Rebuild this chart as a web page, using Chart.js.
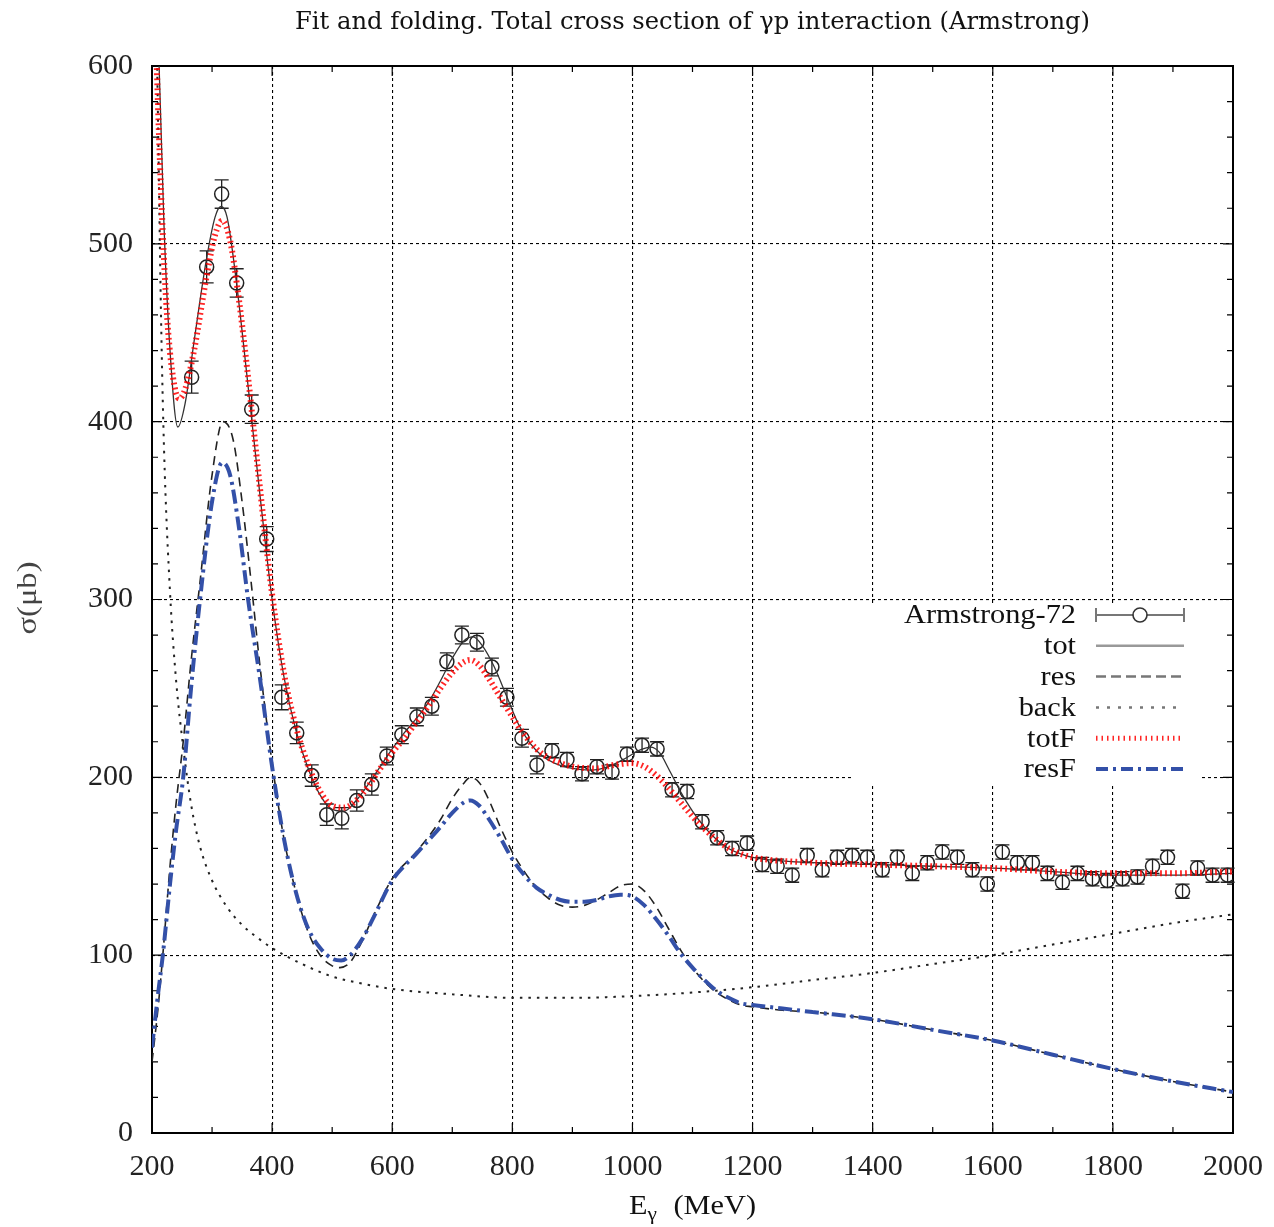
<!DOCTYPE html>
<html>
<head>
<meta charset="utf-8">
<script src="https://cdn.jsdelivr.net/npm/chart.js@4.4.1/dist/chart.umd.min.js"></script>
<style>
  html, body { margin: 0; padding: 0; background: #fff; }
  #wrap { width: 1274px; height: 1227px; }
</style>
</head>
<body>
<div id="wrap"><canvas id="chart" width="1274" height="1227"></canvas></div>
<script>
// Armstrong-72 measurements
const dataE = [266, 291, 316, 341, 366, 391, 416, 441, 466, 491,
               516, 541, 566, 591, 616, 641, 666, 691, 716, 741,
               766, 791, 816, 841, 866, 891, 916, 941, 966, 991,
               1016, 1041, 1066, 1091, 1116, 1141, 1166, 1191, 1216, 1241,
               1266, 1291, 1316, 1341, 1366, 1391, 1416, 1441, 1466, 1491,
               1516, 1541, 1566, 1591, 1616, 1641, 1666, 1691, 1716, 1741,
               1766, 1791, 1816, 1841, 1866, 1891, 1916, 1941, 1966, 1991];
const dataSigma = [425, 487, 528, 478, 407, 334, 245, 225, 201, 179,
                   177, 187, 196, 212, 224, 234, 240, 265, 280, 276,
                   262, 245, 222, 207, 215, 210, 202, 206, 203, 213,
                   218, 216, 193, 192, 175, 166, 160, 163, 151, 150,
                   145, 156, 148, 155, 156, 155, 148, 155, 146, 152,
                   158, 155, 148, 140, 158, 152, 152, 146, 141, 146,
                   143, 142, 143, 144, 150, 155, 136, 149, 145, 145];
const dataErr = [9, 9, 8, 8, 8, 7, 7, 6, 6, 6,
                 6, 6, 6, 5, 5, 5, 5, 5, 5, 5,
                 5, 5, 5, 5, 4, 4, 4, 4, 4, 4,
                 4, 4, 4, 4, 4, 4, 4, 4, 4, 4,
                 4, 4, 4, 4, 4, 4, 4, 4, 4, 4,
                 4, 4, 4, 4, 4, 4, 4, 4, 4, 4,
                 4, 4, 4, 4, 4, 4, 4, 4, 4, 4];

// tot: full fit
const totE = [200, 210, 220, 230, 243, 255, 270, 290, 305, 315, 325, 340, 360, 380, 400, 420, 440, 460, 480, 500,
              520, 540, 560, 580, 600, 620, 640, 660, 680, 700, 720, 735, 750, 770, 790, 810, 830, 850, 870, 900,
              930, 960, 990, 1010, 1030, 1045, 1060, 1080, 1100, 1120, 1140, 1160, 1180, 1200, 1250, 1300, 1400, 1500,
              1600, 1700, 1800, 1900, 2000];
const totV = [760, 620, 510, 440, 397, 410, 445, 490, 515, 521, 515, 480, 420, 358, 300, 256, 226, 205, 190, 182,
              181, 187, 196, 206, 216, 225, 233, 242, 254, 267, 277, 279, 274, 262, 246, 230, 219, 212, 208, 205,
              204, 206, 211, 215, 217, 214, 205, 192, 181, 172, 165, 160, 157, 155, 153, 152, 151, 150,
              149, 147, 145, 145, 146];

// res: resonance part
const resE = [200, 210, 218, 230, 240, 252, 265, 280, 300, 318, 335, 350, 365, 380, 400, 420, 440, 460, 480, 500,
              513, 530, 550, 570, 600, 640, 680, 700, 720, 730, 745, 760, 780, 800, 820, 840, 860, 880, 900, 920,
              940, 960, 980, 1000, 1020, 1040, 1060, 1080, 1100, 1120, 1140, 1160, 1180, 1200, 1250, 1300, 1400, 1500,
              1600, 1700, 1800, 1900, 2000];
const resV = [40, 70, 100, 150, 185, 220, 265, 310, 370, 400, 390, 355, 310, 262, 208, 165, 135, 113, 100, 94,
              93, 96, 108, 123, 143, 158, 176, 188, 197, 200, 197, 188, 172, 158, 147, 138, 132, 128, 127, 128,
              131, 135, 139, 140, 136, 127, 115, 103, 93, 85, 79, 75, 72, 71, 69, 68, 64, 58,
              52, 44, 36, 29, 23];

// back: background part
const backE = [205, 210, 215, 220, 230, 240, 252, 265, 280, 300, 325, 350, 375, 400, 450, 500, 550, 600, 700, 800,
               900, 1000, 1100, 1200, 1300, 1400, 1500, 1600, 1700, 1800, 1900, 2000];
const backV = [680, 570, 460, 385, 304, 255, 217, 185, 161, 142, 127, 117, 110, 104, 95, 88, 84, 81, 78, 76,
               76, 77, 79, 82, 86, 90, 95, 100, 106, 112, 118, 123];

// totF: folded total
const totFE = [200, 208, 215, 225, 235, 245, 255, 270, 290, 305, 317, 330, 345, 360, 380, 400, 420, 440, 460, 480,
               500, 520, 540, 560, 580, 600, 620, 640, 660, 680, 700, 720, 730, 745, 760, 780, 800, 820, 840, 860,
               880, 900, 940, 970, 1000, 1020, 1040, 1060, 1080, 1100, 1120, 1140, 1160, 1180, 1200, 1300, 1400, 1500,
               1600, 1700, 1800, 1900, 2000];
const totFV = [700, 600, 530, 460, 425, 413, 418, 440, 480, 505, 513, 502, 468, 425, 362, 303, 258, 228, 207, 192,
               184, 183, 187, 195, 205, 214, 222, 231, 240, 250, 259, 265, 266, 263, 256, 245, 234, 224, 216, 211,
               208, 206, 205, 207, 208, 206, 201, 194, 186, 178, 171, 165, 160, 157, 155, 152, 151, 150,
               149, 147, 146, 146, 147];

// resF: folded resonance part
const resFE = [200, 210, 218, 230, 240, 252, 265, 280, 300, 317, 330, 345, 360, 380, 400, 420, 440, 460, 480, 500,
               515, 530, 550, 570, 600, 640, 680, 700, 720, 730, 745, 760, 780, 800, 820, 840, 860, 880, 900, 920,
               940, 960, 980, 1000, 1020, 1040, 1060, 1080, 1100, 1120, 1140, 1160, 1180, 1200, 1250, 1300, 1400, 1500,
               1600, 1700, 1800, 1900, 2000];
const resFV = [48, 78, 100, 140, 170, 200, 250, 300, 355, 377, 370, 340, 300, 255, 206, 165, 135, 115, 104, 98,
               97, 100, 109, 122, 142, 157, 172, 180, 186, 187, 184, 177, 166, 154, 145, 138, 134, 131, 130, 130,
               131, 133, 134, 133, 128, 120, 111, 101, 93, 86, 80, 76, 73, 72, 70, 68, 64, 58,
               52, 44, 36, 29, 23];

const xTicks = [200, 400, 600, 800, 1000, 1200, 1400, 1600, 1800, 2000];
const yTicks = [0, 100, 200, 300, 400, 500, 600];

const serif = "'Liberation Serif', 'DejaVu Serif', serif";
const slab = "'DejaVu Serif', 'Liberation Serif', serif";
const zip = (xs, ys) => xs.map((x, i) => ({ x: x, y: ys[i] }));

// draw text squeezed or stretched horizontally to a given width
function fitText(ctx, text, x, y, width, align) {
    const w = ctx.measureText(text).width;
    const k = width / w;
    ctx.save();
    ctx.translate(x, y);
    ctx.scale(k, 1);
    ctx.textAlign = align;
    ctx.fillText(text, 0, 0);
    ctx.restore();
    return k;
}

// error bars for the data set
const errorBars = {
    id: 'errorBars',
    afterDatasetDraw(chart, args) {
        if (args.index !== 0) return;
        const { ctx, scales: { y } } = chart;
        ctx.save();
        ctx.strokeStyle = '#222';
        ctx.lineWidth = 1.3;
        ctx.setLineDash([]);
        args.meta.data.forEach((pt, i) => {
            const y1 = y.getPixelForValue(dataSigma[i] - dataErr[i]);
            const y2 = y.getPixelForValue(dataSigma[i] + dataErr[i]);
            ctx.beginPath();
            ctx.moveTo(pt.x, y1); ctx.lineTo(pt.x, y2);
            ctx.moveTo(pt.x - 7, y1); ctx.lineTo(pt.x + 7, y1);
            ctx.moveTo(pt.x - 7, y2); ctx.lineTo(pt.x + 7, y2);
            ctx.stroke();
        });
        ctx.restore();
    }
};

// frame, inward tics, key background
const frame = {
    id: 'frame',
    beforeDatasetsDraw(chart) {
        const { ctx, chartArea: a, scales: { x, y } } = chart;
        ctx.save();
        ctx.fillStyle = '#fff';
        ctx.fillRect(852, 603, 350, 180);
        ctx.strokeStyle = '#000';
        ctx.lineWidth = 1.2;
        ctx.setLineDash([]);
        ctx.beginPath();
        for (let v = 200; v <= 2000; v += 100) {
            const px = x.getPixelForValue(v);
            const len = v % 200 === 0 ? 10 : 6;
            ctx.moveTo(px, a.bottom); ctx.lineTo(px, a.bottom - len);
            ctx.moveTo(px, a.top); ctx.lineTo(px, a.top + len);
        }
        for (let v = 0; v <= 600; v += 20) {
            const py = y.getPixelForValue(v);
            const len = v % 100 === 0 ? 10 : 6;
            ctx.moveTo(a.left, py); ctx.lineTo(a.left + len, py);
            ctx.moveTo(a.right, py); ctx.lineTo(a.right - len, py);
        }
        ctx.stroke();
        ctx.lineWidth = 2;
        ctx.strokeRect(a.left, a.top, a.right - a.left, a.bottom - a.top);
        ctx.restore();
    }
};

// title, axis labels and key
const labels = {
    id: 'labels',
    afterDraw(chart) {
        const { ctx, chartArea: a } = chart;
        const cx = (a.left + a.right) / 2;
        ctx.save();
        ctx.fillStyle = '#111';
        ctx.textBaseline = 'alphabetic';
        ctx.font = '24px ' + slab;
        fitText(ctx, 'Fit and folding. Total cross section of \u03b3p interaction (Armstrong)', cx, 29, 795, 'center');

        // x label with subscript
        const big = '27px ' + serif, small = '19px ' + serif;
        ctx.font = big; const wE = ctx.measureText('E').width;
        const wM = ctx.measureText(' (MeV)').width;
        ctx.font = small; const wG = ctx.measureText('\u03b3').width;
        const gap = 8;
        const kx = 127 / (wE + wG + gap + wM);
        ctx.save();
        ctx.translate(cx - 63.5, 0);
        ctx.scale(kx, 1);
        ctx.textAlign = 'left';
        ctx.font = big; ctx.fillText('E', 0, 1214);
        ctx.font = small; ctx.fillText('\u03b3', wE, 1220);
        ctx.font = big; ctx.fillText(' (MeV)', wE + wG + gap, 1214);
        ctx.restore();

        // y label
        ctx.save();
        ctx.translate(36, 598);
        ctx.rotate(-Math.PI / 2);
        ctx.font = '27px ' + serif;
        ctx.fillStyle = '#444';
        fitText(ctx, '\u03c3(\u03bcb)', 0, 0, 73, 'center');
        ctx.restore();

        // key
        const names = ['Armstrong-72', 'tot', 'res', 'back', 'totF', 'resF'];
        const x0 = 1096, x1 = 1184;
        ctx.font = '28px ' + serif;
        const kk = 172 / ctx.measureText(names[0]).width;
        ctx.textBaseline = 'middle';
        names.forEach((n, i) => {
            const ky = 615 + i * 30.8;
            ctx.fillStyle = '#111';
            ctx.save();
            ctx.translate(1076, ky + 1);
            ctx.scale(kk, 1);
            ctx.textAlign = 'right';
            ctx.fillText(n, 0, 0);
            ctx.restore();
            ctx.beginPath();
            if (i === 0) {
                ctx.strokeStyle = '#777'; ctx.lineWidth = 2; ctx.setLineDash([]);
                ctx.moveTo(x0, ky); ctx.lineTo(x1, ky);
                ctx.moveTo(x0, ky - 7); ctx.lineTo(x0, ky + 7);
                ctx.moveTo(x1, ky - 7); ctx.lineTo(x1, ky + 7);
                ctx.stroke();
                ctx.beginPath();
                ctx.fillStyle = '#fff';
                ctx.arc(1140, ky, 7, 0, Math.PI * 2);
                ctx.fill();
                ctx.strokeStyle = '#333'; ctx.lineWidth = 1.6;
                ctx.stroke();
                return;
            }
            const st = [null,
                { c: '#999', w: 2.5, d: [] },
                { c: '#777', w: 2.5, d: [10, 5] },
                { c: '#777', w: 2.5, d: [3, 8] },
                { c: 'rgba(255,0,0,0.85)', w: 5, d: [1.5, 4] },
                { c: '#3350a8', w: 4, d: [12, 5, 3, 5] }][i];
            ctx.strokeStyle = st.c; ctx.lineWidth = st.w; ctx.setLineDash(st.d);
            ctx.moveTo(x0, ky); ctx.lineTo(x1, ky);
            ctx.stroke();
        });
        ctx.restore();
    }
};

const lineDefaults = { showLine: true, pointRadius: 0, fill: false, cubicInterpolationMode: 'monotone' };

new Chart(document.getElementById('chart'), {
    type: 'scatter',
    data: {
        datasets: [
            {
                label: 'Armstrong-72', data: zip(dataE, dataSigma), order: 5,
                pointStyle: 'circle', pointRadius: 7, pointBorderWidth: 1.5,
                pointBorderColor: '#222', pointBackgroundColor: 'rgba(0,0,0,0)', showLine: false
            },
            Object.assign({ label: 'tot', data: zip(totE, totV), order: 4,
                borderColor: '#333', borderWidth: 1.3 }, lineDefaults),
            Object.assign({ label: 'res', data: zip(resE, resV), order: 3,
                borderColor: '#222', borderWidth: 1.6, borderDash: [9, 6] }, lineDefaults),
            Object.assign({ label: 'back', data: zip(backE, backV), order: 2,
                borderColor: '#222', borderWidth: 2, borderDash: [2.5, 6] }, lineDefaults),
            Object.assign({ label: 'totF', data: zip(totFE, totFV), order: 1,
                borderColor: 'rgba(255,0,0,0.85)', borderWidth: 6, borderDash: [1.8, 3.2] }, lineDefaults),
            Object.assign({ label: 'resF', data: zip(resFE, resFV), order: 0,
                borderColor: '#3350a8', borderWidth: 4, borderDash: [14, 5, 3, 5] }, lineDefaults)
        ]
    },
    options: {
        responsive: false,
        animation: false,
        devicePixelRatio: 1,
        layout: { padding: { top: 66, right: 41, left: 0, bottom: 0 } },
        plugins: {
            legend: { display: false },
            title: { display: false },
            tooltip: { enabled: false }
        },
        scales: {
            x: {
                type: 'linear', min: 200, max: 2000,
                afterFit: s => { s.height = 94; s.paddingLeft = 0; s.paddingRight = 0; },
                afterBuildTicks: s => { s.ticks = xTicks.map(v => ({ value: v })); },
                grid: { color: '#000', lineWidth: 1.1, drawTicks: false },
                border: { display: false, dash: [3, 3] },
                ticks: { padding: 16, color: '#222', font: { family: serif, size: 30 },
                         callback: v => String(v) }
            },
            y: {
                type: 'linear', min: 0, max: 600,
                afterFit: s => { s.width = 152; s.paddingTop = 0; s.paddingBottom = 0; },
                afterBuildTicks: s => { s.ticks = yTicks.map(v => ({ value: v })); },
                grid: { color: '#000', lineWidth: 1.1, drawTicks: false },
                border: { display: false, dash: [3, 3] },
                ticks: { padding: 19, color: '#222', font: { family: serif, size: 30 },
                         callback: v => String(v) }
            }
        }
    },
    plugins: [frame, errorBars, labels]
});
</script>
</body>
</html>
